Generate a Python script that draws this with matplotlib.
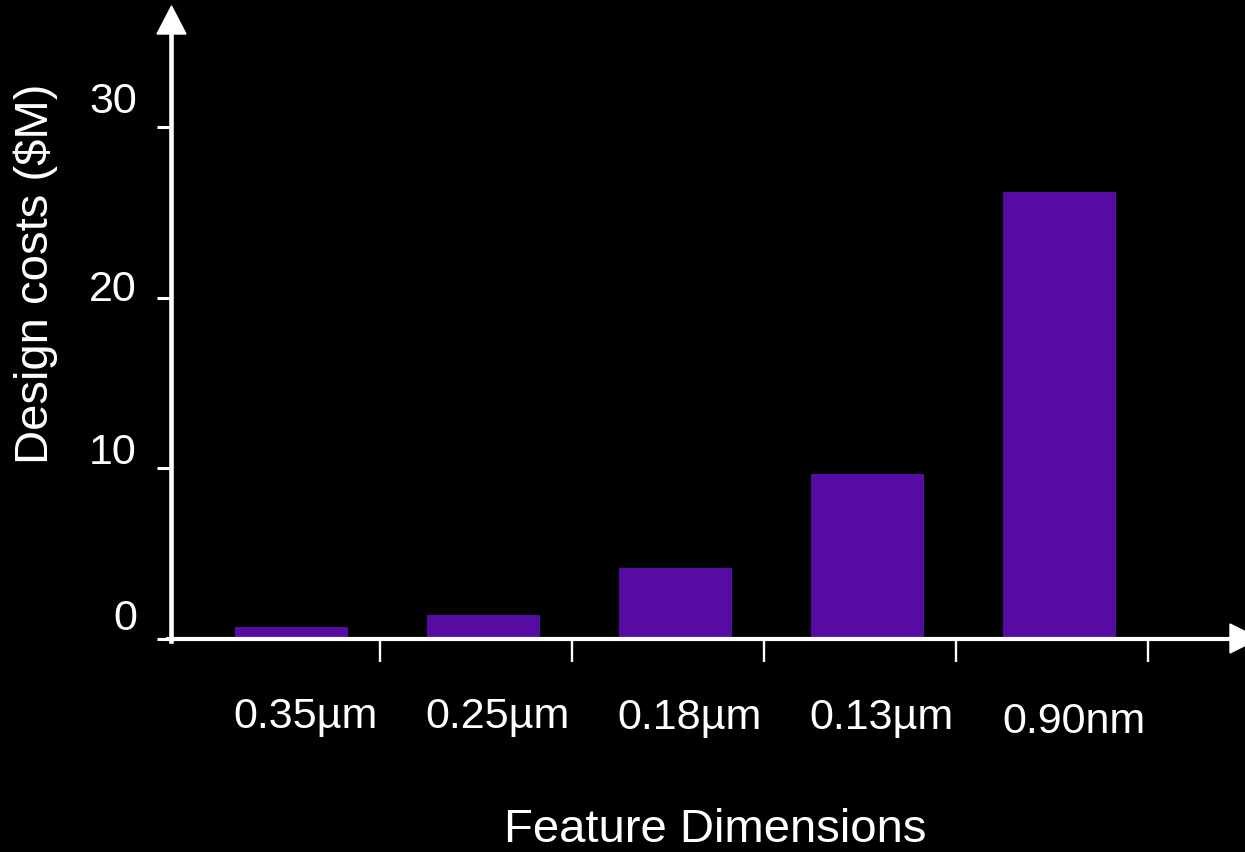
import matplotlib
matplotlib.use("Agg")
import matplotlib.pyplot as plt
from matplotlib.patches import Polygon
from matplotlib.lines import Line2D

# ---- data ----
categories = ["0.35µm", "0.25µm", "0.18µm", "0.13µm", "0.90nm"]
costs = [0.7, 1.4, 4.15, 9.65, 26.2]
ytick_values = [0, 10, 20, 30]
ytick_labels = ["0", "10", "20", "30"]
xlabel = "Feature Dimensions"
ylabel = "Design costs ($M)"

# ---- layout ----
W, H = 1245, 853
plt.rcParams['font.family'] = ['Liberation Sans', 'DejaVu Sans']
fig = plt.figure(figsize=(W / 100, H / 100), dpi=100, facecolor='black')

def fx(px):
    return px / W

def fy(py):
    return (H - py) / H

ax_left_px, ax_right_px = 171, 1245
ax_bottom_px, ax_top_px = 640, 7
ax = fig.add_axes([fx(ax_left_px), fy(ax_bottom_px),
                   (ax_right_px - ax_left_px) / W, (ax_bottom_px - ax_top_px) / H])
ax.set_facecolor('black')

slot = 192.0
first_center = 291.5
x = list(range(len(categories)))
ax.set_xlim((ax_left_px - first_center) / slot, (ax_right_px - first_center) / slot)
px_per_unit = 17.07
ax.set_ylim(0, (ax_bottom_px - ax_top_px) / px_per_unit)

ax.bar(x, costs, width=113 / slot, color='#560ba3', zorder=2)

for s in ax.spines.values():
    s.set_visible(False)

# ticks
ax.set_yticks(ytick_values)
ax.set_yticklabels([])
ax.tick_params(axis='y', direction='out', length=10, width=2.2, color='white')
ax.set_xticks([i + (380 - first_center) / slot for i in x])
ax.set_xticklabels([])
ax.tick_params(axis='x', direction='out', length=16.5, width=1.7, color='white')

# axis lines
fig.add_artist(Line2D([fx(171), fx(171)], [fy(642), fy(30)], color='white', lw=3.3))
fig.add_artist(Line2D([fx(168), fx(1235)], [fy(640), fy(640)], color='white', lw=3.0))
# arrow heads
fig.add_artist(Polygon([[fx(157), fy(35)], [fx(186), fy(35)], [fx(171.5), fy(7)]],
                       closed=True, color='white'))
fig.add_artist(Polygon([[fx(1230), fy(625)], [fx(1230), fy(654)], [fx(1259), fy(639.5)]],
                       closed=True, color='white'))

# x tick labels
x_label_dy = [-88, -88, -89, -89, -93]
for i, lab in enumerate(categories):
    ax.annotate(lab, xy=(x[i], 0), xycoords='data', xytext=(14, x_label_dy[i]),
                textcoords='offset pixels', ha='center', va='baseline',
                color='white', fontsize=31, annotation_clip=False)

# y tick labels
y_label_dy = [10, 5, -2, 15]
for v, lab, dy in zip(ytick_values, ytick_labels, y_label_dy):
    ax.annotate(lab, xy=(0, v), xycoords=('axes fraction', 'data'), xytext=(-34, dy),
                textcoords='offset pixels', ha='right', va='baseline',
                color='white', fontsize=31, annotation_clip=False)

fig.text(fx(715), fy(852), xlabel, ha='center', va='bottom', color='white', fontsize=34)
fig.text(fx(36), fy(274), ylabel, ha='center', va='center', rotation=90,
         color='white', fontsize=34)

fig.savefig('out.png', dpi=100, facecolor='black')
